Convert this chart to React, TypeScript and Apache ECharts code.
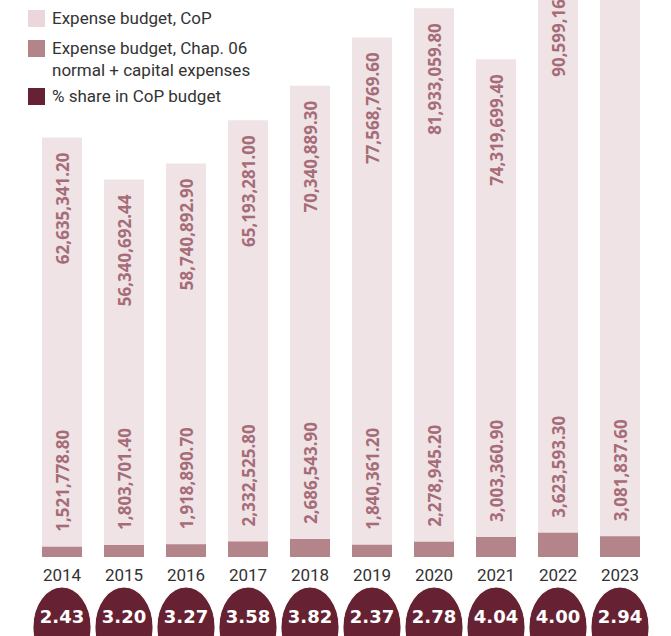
import React, { useEffect, useRef } from "react";
import * as echarts from "echarts";

const years = ["2014", "2015", "2016", "2017", "2018", "2019", "2020", "2021", "2022", "2023"];
const copBudget = [62635341.2, 56340692.44, 58740892.9, 65193281.0, 70340889.3, 77568769.6, 81933059.8, 74319699.4, 90599164.5, 104824000.0];
const chap06Budget = [1521778.8, 1803701.4, 1918890.7, 2332525.8, 2686543.9, 1840361.2, 2278945.2, 3003360.9, 3623593.3, 3081837.6];
const shareInCoP = [2.43, 3.2, 3.27, 3.58, 3.82, 2.37, 2.78, 4.04, 4.0, 2.94];

const legendItems = [
  { name: "Expense budget, CoP", lines: ["Expense budget, CoP"], color: "#ead6db" },
  { name: "Expense budget, Chap. 06 normal + capital expenses", lines: ["Expense budget, Chap. 06", "normal + capital expenses"], color: "#b4848b" },
  { name: "% share in CoP budget", lines: ["% share in CoP budget"], color: "#662232" },
];

const fmt = (v: number) =>
  v.toLocaleString("en-US", { minimumFractionDigits: 2, maximumFractionDigits: 2 });

export default function App() {
  const ref = useRef<HTMLDivElement>(null);
  useEffect(() => {
    if (!ref.current) return;
    const chart = echarts.init(ref.current, undefined, { renderer: "svg" });
    const font = "Roboto";
    const labelFont = "Noto Sans";
    const legendTops = [10, 40, 88];
    const graphics: any[] = [];
    legendItems.forEach((it, i) => {
      graphics.push({
        type: "rect",
        left: 28,
        top: legendTops[i],
        shape: { width: 17, height: 17 },
        style: { fill: it.color },
      });
      it.lines.forEach((ln, j) => {
        graphics.push({
          type: "text",
          left: 52,
          top: legendTops[i] - 1 + j * 22,
          style: { text: ln, fill: "#333333", font: `17px ${font}` },
        });
      });
    });

    chart.setOption({
      animation: false,
      graphic: graphics,
      grid: [
        { left: 31, right: 20, top: 0, bottom: 79 },
        { left: 31, right: 20, top: 592, bottom: 0 },
      ],
      xAxis: [
        {
          type: "category",
          data: years,
          gridIndex: 0,
          axisLine: { show: false },
          axisTick: { show: false },
          axisLabel: { color: "#333333", fontFamily: font, fontSize: 17, margin: 9 },
        },
        { type: "category", data: years, gridIndex: 1, show: false },
      ],
      yAxis: [
        { type: "value", min: 0, max: 83150000, gridIndex: 0, show: false },
        { type: "category", data: ["share"], gridIndex: 1, show: false },
      ],
      series: [
        {
          name: legendItems[0].name,
          type: "bar",
          data: copBudget,
          barWidth: 40,
          clip: false,
          xAxisIndex: 0,
          yAxisIndex: 0,
          itemStyle: { color: "#efe3e6" },
          label: {
            show: true,
            position: "insideTop",
            distance: 15,
            rotate: 90,
            align: "right",
            verticalAlign: "middle",
            formatter: (p: any) => fmt(p.value),
            color: "#a66c78",
            fontFamily: labelFont,
            fontWeight: "bold",
            fontSize: 17,
          },
        },
        {
          name: legendItems[1].name,
          type: "bar",
          data: chap06Budget,
          barWidth: 40,
          barGap: "-100%",
          clip: false,
          xAxisIndex: 0,
          yAxisIndex: 0,
          itemStyle: { color: "#b4848b" },
          label: {
            show: true,
            position: "top",
            distance: 15,
            rotate: 90,
            align: "left",
            verticalAlign: "middle",
            formatter: (p: any) => fmt(p.value),
            color: "#a66c78",
            fontFamily: labelFont,
            fontWeight: "bold",
            fontSize: 17,
          },
        },
        {
          name: legendItems[2].name,
          type: "scatter",
          xAxisIndex: 1,
          yAxisIndex: 1,
          data: shareInCoP.map((v, i) => [years[i], "share", v]),
          symbol: "path://M0,40 A29,40 0 1,1 58,40 A29,40 0 1,1 0,40 Z",
          symbolSize: [58, 80],
          symbolOffset: [0, 13],
          itemStyle: { color: "#662232", opacity: 1, borderColor: "#ffffff", borderWidth: 1 },
          label: {
            show: true,
            position: "inside",
            offset: [0, -11],
            formatter: (p: any) => p.value[2].toFixed(2),
            color: "#ffffff",
            fontFamily: "DejaVu Sans",
            fontWeight: "bold",
            fontSize: 18,
          },
        },
      ],
    });
    return () => chart.dispose();
  }, []);
  return (
    <div
      ref={ref}
      style={{ position: "absolute", left: 0, top: 0, width: 671, height: 636, background: "#ffffff" }}
    />
  );
}
